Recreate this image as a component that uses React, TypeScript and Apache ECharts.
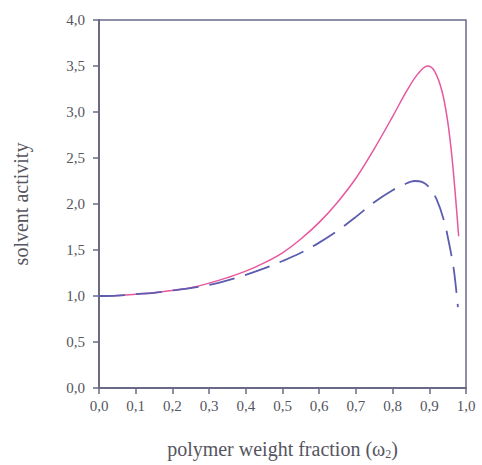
import React, { useEffect, useRef } from "react";
import * as echarts from "echarts";

const xTicks = [0, 0.1, 0.2, 0.3, 0.4, 0.5, 0.6, 0.7, 0.8, 0.9, 1.0];
const yTicks = [0, 0.5, 1, 1.5, 2, 2.5, 3, 3.5, 4];

const pinkX = [0, 0.05, 0.1, 0.15, 0.2, 0.25, 0.3, 0.35, 0.4, 0.45, 0.5, 0.55, 0.6, 0.65, 0.7, 0.75, 0.8, 0.84, 0.87, 0.895, 0.915, 0.935, 0.95, 0.962, 0.972, 0.98];
const pinkY = [1.0, 1.005, 1.02, 1.035, 1.06, 1.09, 1.14, 1.2, 1.27, 1.36, 1.47, 1.62, 1.8, 2.02, 2.28, 2.6, 2.95, 3.24, 3.42, 3.5, 3.44, 3.22, 2.9, 2.5, 2.05, 1.65];

const blueX = [0, 0.05, 0.1, 0.15, 0.2, 0.25, 0.3, 0.35, 0.4, 0.45, 0.5, 0.55, 0.6, 0.65, 0.7, 0.75, 0.8, 0.83, 0.86, 0.88, 0.9, 0.92, 0.94, 0.955, 0.967, 0.978];
const blueY = [1.0, 1.005, 1.02, 1.035, 1.06, 1.085, 1.12, 1.17, 1.23, 1.3, 1.38, 1.47, 1.58, 1.71, 1.86, 2.02, 2.15, 2.21, 2.25, 2.24, 2.18, 2.05, 1.82, 1.55, 1.28, 0.88];

const fmt = (v: number) => v.toFixed(1).replace(".", ",");

export default function App() {
  const ref = useRef<HTMLDivElement>(null);
  useEffect(() => {
    if (!ref.current) return;
    const chart = echarts.init(ref.current, undefined, { renderer: "svg" });
    const axisColor = "#6a6a86";
    const textColor = "#555560";
    const font = "Liberation Serif";
    chart.setOption({
      animation: false,
      backgroundColor: "#ffffff",
      grid: {
        left: 99,
        right: 16,
        top: 20,
        bottom: 77,
        show: true,
        borderColor: axisColor,
        borderWidth: 1.5,
        backgroundColor: "transparent",
        containLabel: false,
        outerBoundsMode: "none",
      },
      xAxis: {
        type: "value",
        min: 0,
        max: 1,
        interval: 0.1,
        name: "polymer weight fraction (ω{sub|2})",
        nameLocation: "middle",
        nameGap: 50,
        nameTextStyle: {
          fontFamily: font,
          fontSize: 20,
          color: textColor,
          rich: {
            sub: { fontFamily: font, fontSize: 12, color: textColor, padding: [10, 0, 0, 0] },
          },
        },
        axisLine: { show: true, lineStyle: { color: axisColor, width: 2 } },
        axisTick: { show: true, length: 6, lineStyle: { color: axisColor, width: 1.5 } },
        axisLabel: {
          fontFamily: font,
          fontSize: 15,
          color: textColor,
          margin: 10,
          formatter: (v: number) => fmt(v),
        },
        splitLine: { show: false },
      },
      yAxis: {
        type: "value",
        min: 0,
        max: 4,
        interval: 0.5,
        name: "solvent activity",
        nameLocation: "middle",
        nameGap: 68,
        nameTextStyle: { fontFamily: font, fontSize: 20, color: textColor },
        axisLine: { show: true, lineStyle: { color: axisColor, width: 2 } },
        axisTick: { show: true, length: 6, lineStyle: { color: axisColor, width: 1.5 } },
        axisLabel: {
          fontFamily: font,
          fontSize: 15,
          color: textColor,
          margin: 14,
          formatter: (v: number) => fmt(v),
        },
        splitLine: { show: false },
      },
      series: [
        {
          type: "line",
          data: blueX.map((x, i) => [x, blueY[i]]),
          smooth: 0.35,
          showSymbol: false,
          lineStyle: { color: "#5c5cb0", width: 1.8, type: [26, 11] },
          z: 2,
        },
        {
          type: "line",
          data: pinkX.map((x, i) => [x, pinkY[i]]),
          smooth: 0.35,
          showSymbol: false,
          lineStyle: { color: "#e8569e", width: 1.5 },
          z: 1,
        },
      ],
    });
    return () => chart.dispose();
  }, []);
  return <div ref={ref} style={{ width: 482, height: 465, position: "absolute", left: 0, top: 0 }} />;
}
